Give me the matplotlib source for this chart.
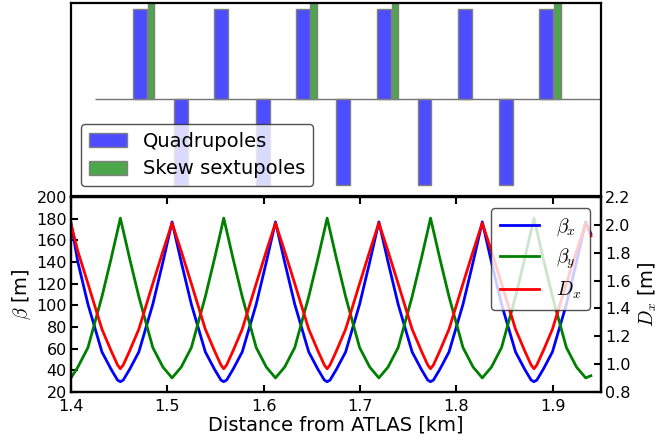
import matplotlib
matplotlib.use("Agg")
import matplotlib.pyplot as plt

plt.rcParams['font.family'] = ['DejaVu Sans']
plt.rcParams['mathtext.fontset'] = 'cm'

# ---------------- data ----------------
# Lattice elements (top panel), positions in km (left edge of each element)
quad_focus_pos = [1.4648, 1.5489, 1.6333, 1.7174, 1.8020, 1.8861]
quad_focus_k = [0.93, 0.93, 0.93, 0.93, 0.93, 0.93]
quad_defocus_pos = [1.5074, 1.5915, 1.6752, 1.7596, 1.8437]
quad_defocus_k = [-0.89, -0.89, -0.89, -0.89, -0.89]
sext_pos = [1.4797, 1.6481, 1.7329, 1.9014]
sext_k = [1.2, 1.2, 1.2, 1.2]
quad_width = 0.0145
sext_width = 0.0069
baseline_start = 1.4249

# Optics (bottom panel)
s_km = [1.4000, 1.4071, 1.4176, 1.4321, 1.4416, 1.4483, 1.4512, 1.4542, 1.4609, 1.4704, 1.4849, 1.4954,
        1.5049, 1.5144, 1.5249, 1.5394, 1.5489, 1.5556, 1.5585, 1.5615, 1.5682, 1.5777, 1.5922, 1.6027,
        1.6122, 1.6217, 1.6322, 1.6467, 1.6562, 1.6629, 1.6658, 1.6688, 1.6755, 1.6850, 1.6995, 1.7100,
        1.7195, 1.7290, 1.7395, 1.7540, 1.7635, 1.7702, 1.7731, 1.7761, 1.7828, 1.7923, 1.8068, 1.8173,
        1.8268, 1.8363, 1.8468, 1.8613, 1.8708, 1.8775, 1.8804, 1.8834, 1.8901, 1.8996, 1.9141, 1.9246,
        1.9341, 1.9395]
beta_x = [176, 140, 101, 57, 41, 31, 29.5, 31, 41, 57, 101, 140,
          177, 140, 101, 57, 41, 31, 29.5, 31, 41, 57, 101, 140,
          177, 140, 101, 57, 41, 31, 29.5, 31, 41, 57, 101, 140,
          177, 140, 101, 57, 41, 31, 29.5, 31, 41, 57, 101, 140,
          177, 140, 101, 57, 41, 31, 29.5, 31, 41, 57, 101, 140,
          177, 166]
beta_y = [33, 43, 61, 108, 143, 169, 180.5, 169, 143, 108, 61, 43,
          33, 43, 61, 108, 143, 169, 180.5, 169, 143, 108, 61, 43,
          33, 43, 61, 108, 143, 169, 180.5, 169, 143, 108, 61, 43,
          33, 43, 61, 108, 143, 169, 180.5, 169, 143, 108, 61, 43,
          33, 43, 61, 108, 143, 169, 180.5, 169, 143, 108, 61, 43,
          33, 35]
D_x = [2.006, 1.811, 1.578, 1.251, 1.096, 0.994, 0.967, 0.994, 1.096, 1.251, 1.578, 1.811,
       2.013, 1.811, 1.578, 1.251, 1.096, 0.994, 0.967, 0.994, 1.096, 1.251, 1.578, 1.811,
       2.013, 1.811, 1.578, 1.251, 1.096, 0.994, 0.967, 0.994, 1.096, 1.251, 1.578, 1.811,
       2.013, 1.811, 1.578, 1.251, 1.096, 0.994, 0.967, 0.994, 1.096, 1.251, 1.578, 1.811,
       2.013, 1.811, 1.578, 1.251, 1.096, 0.994, 0.967, 0.994, 1.096, 1.251, 1.578, 1.811,
       2.013, 1.92]

beta_ticks = [20, 40, 60, 80, 100, 120, 140, 160, 180, 200]
disp_ticks = [0.8, 1.0, 1.2, 1.4, 1.6, 1.8, 2.0, 2.2]
x_ticks = [1.4, 1.5, 1.6, 1.7, 1.8, 1.9]

# ---------------- figure ----------------
W, H = 658, 447
fig = plt.figure(figsize=(W / 100, H / 100), dpi=100)
ax_top = fig.add_axes([71 / W, 1 - 196 / H, 530 / W, 193.5 / H])
ax = fig.add_axes([71 / W, 1 - 392 / H, 530 / W, 195 / H])
ax2 = ax.twinx()

spine_lw = 1.6
tick_fs = 11.5

# top panel
blue_face = '#4d4dff'
green_face = '#4ca64c'
ax_top.hlines(0, baseline_start, 1.96, color='0.45', lw=1.0, zorder=1)
ax_top.bar(quad_focus_pos, quad_focus_k, width=quad_width, align='edge',
           color=blue_face, edgecolor='0.5', lw=1.0, label='Quadrupoles', zorder=2)
ax_top.bar(quad_defocus_pos, quad_defocus_k, width=quad_width, align='edge',
           color=blue_face, edgecolor='0.5', lw=1.0, zorder=2)
ax_top.bar(sext_pos, sext_k, width=sext_width, align='edge',
           color=green_face, edgecolor='0.5', lw=1.0, label='Skew sextupoles', zorder=2)
ax_top.set_xlim(1.4, 1.95)
ax_top.set_ylim(-1, 1)
ax_top.set_xticks([])
ax_top.set_yticks([])
for sp in ax_top.spines.values():
    sp.set_linewidth(spine_lw)
leg_top = ax_top.legend(loc='lower left', fontsize=14, fancybox=True,
                        framealpha=0.8, edgecolor='0.15', handlelength=2.0,
                        handleheight=0.7, borderpad=0.4, labelspacing=0.45)
leg_top.get_frame().set_linewidth(1.0)

# bottom panel
l1, = ax.plot(s_km, beta_x, color='b', lw=2.0, label=r'$\beta_x$')
l2, = ax.plot(s_km, beta_y, color='g', lw=2.0, label=r'$\beta_y$')
l3, = ax2.plot(s_km, D_x, color='r', lw=2.0, label=r'$D_x$')

ax.set_xlim(1.4, 1.95)
ax.set_ylim(20, 200)
ax2.set_ylim(0.8, 2.2)
ax.set_xticks(x_ticks)
ax.set_xticklabels([f'{v:.1f}' for v in x_ticks])
ax.set_yticks(beta_ticks)
ax2.set_yticks(disp_ticks)
ax2.set_yticklabels([f'{v:.1f}' for v in disp_ticks])

ax.tick_params(axis='x', direction='in', top=True, bottom=True, length=5, width=1.5,
               labelsize=tick_fs, pad=5)
ax.tick_params(axis='y', direction='in', left=True, right=False, length=5, width=1.5,
               labelsize=tick_fs, pad=3)
ax2.tick_params(axis='y', direction='in', length=5, width=1.5, labelsize=tick_fs, pad=3)

for a in (ax, ax2):
    for sp in a.spines.values():
        sp.set_linewidth(spine_lw)

ax.set_xlabel('Distance from ATLAS [km]', fontsize=14, labelpad=1)
ax.set_ylabel(r'$\beta$ [m]', fontsize=14, labelpad=2)
ax2.set_ylabel(r'$D_x$ [m]', fontsize=14, labelpad=4)

leg = ax2.legend([l1, l2, l3], [r'$\beta_x$', r'$\beta_y$', r'$D_x$'], loc='upper right',
                 fontsize=14, fancybox=True, framealpha=0.8, edgecolor='0.15',
                 handlelength=2.0, handletextpad=0.9, borderpad=0.45, labelspacing=0.45,
                 borderaxespad=0.55)
leg.get_frame().set_linewidth(1.0)

fig.savefig('out.png', dpi=100)
